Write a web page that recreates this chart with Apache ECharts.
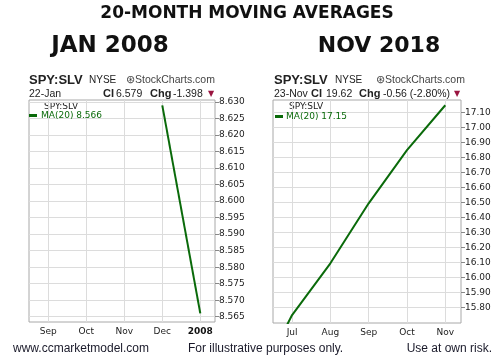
<!DOCTYPE html>
<html>
<head>
<meta charset="utf-8">
<script src="https://cdn.jsdelivr.net/npm/echarts@6/dist/echarts.min.js"></script>
<style>
html,body{margin:0;padding:0;background:#fff;}
#c{width:499px;height:359px;}
</style>
</head>
<body>
<div id="c"></div>
<script>
// ---- data ----
const leftMonths = ['Sep', 'Oct', 'Nov', 'Dec', '2008'];
const leftMA = [null, null, null, 8.629, 8.566];
const leftYTicks = [8.565, 8.570, 8.575, 8.580, 8.585, 8.590, 8.595, 8.600, 8.605, 8.610, 8.615, 8.620, 8.625, 8.630];

const rightMonths = ['Jun', 'Jul', 'Aug', 'Sep', 'Oct', 'Nov'];
const rightMA = [15.25, 15.751, 16.096, 16.496, 16.851, 17.15];
const rightYTicks = [15.80, 15.90, 16.00, 16.10, 16.20, 16.30, 16.40, 16.50, 16.60, 16.70, 16.80, 16.90, 17.00, 17.10];

const leftLast = 8.566;
const rightLast = 17.15;

// ---- build ----
const GREEN = '#0a6a0a';
const FONT = '"DejaVu Sans", Verdana, sans-serif';
const leftPts = [];
leftMA.forEach((v, i) => { if (v !== null) leftPts.push([i, v]); });
const rightPts = rightMA.map((v, i) => [i - 1, v]);
const leftX = leftMonths.map((m, i) => i);
const rightX = rightMonths.map((m, i) => i - 1).filter(i => i >= 0);

function xAxis(gridIndex, names, offset, custom, min, max) {
  return {
    type: 'value', gridIndex, min, max,
    axisLine: {show: false, onZero: false},
    axisTick: {show: true, customValues: custom, length: 0, lineStyle: {color: '#ddd'}},
    splitLine: {show: true, lineStyle: {color: '#dcdcdc', width: 1}},
    axisLabel: {
      customValues: custom, margin: 5,
      formatter: v => {
        const n = names[Math.round(v) + offset];
        return /^\d{4}$/.test(n) ? '{b|' + n + '}' : '{n|' + n + '}';
      },
      rich: {
        n: {fontFamily: FONT, fontSize: 9, color: '#222'},
        b: {fontFamily: FONT, fontSize: 9, fontWeight: 'bold', color: '#111'}
      }
    }
  };
}
function yAxis(gridIndex, ticks, dec, min, max) {
  return {
    type: 'value', gridIndex, position: 'right', min, max,
    axisLine: {show: false, onZero: false},
    axisTick: {show: true, customValues: ticks, length: 4, lineStyle: {color: '#888'}},
    splitLine: {show: true, lineStyle: {color: '#dcdcdc', width: 1}},
    axisLabel: {customValues: ticks, margin: 4, fontFamily: FONT, fontSize: 9, color: '#222',
      formatter: v => v.toFixed(dec)}
  };
}

function txt(x, y, text, font, fill, align) {
  return {type: 'text', x, y, style: {text, font, fill: fill || '#111', textAlign: align || 'left', textVerticalAlign: 'middle'}};
}
const SANS = '"Liberation Sans", Arial, sans-serif';

const option = {
  animation: false,
  backgroundColor: '#fff',
  grid: [
    {left: 29, top: 100, width: 186, height: 222, show: true, borderColor: '#a8a8a8', borderWidth: 1, backgroundColor: 'transparent'},
    {left: 273, top: 100, width: 188, height: 223, show: true, borderColor: '#a8a8a8', borderWidth: 1, backgroundColor: 'transparent'}
  ],
  xAxis: [
    xAxis(0, leftMonths, 0, leftX, -0.508, 4.387),
    xAxis(1, rightMonths, 1, rightX, -0.498, 4.411)
  ],
  yAxis: [
    yAxis(0, leftYTicks, 3, 8.5634, 8.63061),
    yAxis(1, rightYTicks, 2, 15.698, 17.185)
  ],
  legend: [
    {data: ['MAL'], left: 29, top: 111, itemWidth: 8, itemHeight: 3, icon: 'rect', itemGap: 0, padding: 0,
     formatter: () => 'MA(20) ' + leftLast.toFixed(3), textStyle: {color: GREEN, fontFamily: FONT, fontSize: 9, padding: [0, 0, 0, -1]}},
    {data: ['MAR'], left: 275, top: 112, itemWidth: 8, itemHeight: 3, icon: 'rect', itemGap: 0, padding: 0,
     formatter: () => 'MA(20) ' + rightLast.toFixed(2), textStyle: {color: GREEN, fontFamily: FONT, fontSize: 9, padding: [0, 0, 0, -2]}}
  ],
  series: [
    {name: 'MAL', type: 'line', xAxisIndex: 0, yAxisIndex: 0, data: leftPts, showSymbol: false, symbol: 'none',
     lineStyle: {color: GREEN, width: 2}, itemStyle: {color: GREEN}, clip: true},
    {name: 'MAR', type: 'line', xAxisIndex: 1, yAxisIndex: 1, data: rightPts, showSymbol: false, symbol: 'none',
     lineStyle: {color: GREEN, width: 2}, itemStyle: {color: GREEN}, clip: true}
  ],
  graphic: [
    txt(247, 14, '20-MONTH MOVING AVERAGES', 'bold 17px "DejaVu Sans", sans-serif', '#111', 'center'),
    txt(110, 46, 'JAN 2008', 'bold 23px "DejaVu Sans", sans-serif', '#111', 'center'),
    txt(379, 46, 'NOV 2018', 'bold 22px "DejaVu Sans", sans-serif', '#111', 'center'),
    // left header
    txt(29, 80, 'SPY:SLV', 'bold 13px ' + SANS, '#222'),
    txt(89, 80, 'NYSE', '10px ' + SANS, '#222'),
    txt(126, 80, '⊛StockCharts.com', '10.5px ' + SANS, '#444'),
    txt(29, 94, '22-Jan', '10.5px ' + SANS, '#222'),
    txt(103, 94, 'CI', 'bold 11px ' + SANS, '#222'),
    txt(116, 94, '6.579', '10.5px ' + SANS, '#222'),
    txt(150, 94, 'Chg', 'bold 11px ' + SANS, '#222'),
    txt(173, 94, '-1.398', '10.5px ' + SANS, '#222'),
    txt(208, 94, '▼', '8px "DejaVu Sans", sans-serif', '#9a1540'),
    txt(44, 107, 'SPY:SLV', '9px ' + FONT, '#222'),
    // right header
    txt(274, 80, 'SPY:SLV', 'bold 13px ' + SANS, '#222'),
    txt(335, 80, 'NYSE', '10px ' + SANS, '#222'),
    txt(376, 80, '⊛StockCharts.com', '10.5px ' + SANS, '#444'),
    txt(274, 94, '23-Nov', '10.5px ' + SANS, '#222'),
    txt(311, 94, 'CI', 'bold 11px ' + SANS, '#222'),
    txt(326, 94, '19.62', '10.5px ' + SANS, '#222'),
    txt(359, 94, 'Chg', 'bold 11px ' + SANS, '#222'),
    txt(383, 94, '-0.56 (-2.80%)', '10.5px ' + SANS, '#222'),
    txt(454, 94, '▼', '8px "DejaVu Sans", sans-serif', '#9a1540'),
    txt(289, 107, 'SPY:SLV', '9px ' + FONT, '#222'),
    // footer
    txt(13, 349, 'www.ccmarketmodel.com', '12px ' + SANS, '#1a1a2a'),
    txt(188, 349, 'For illustrative purposes only.', '12px ' + SANS, '#1a1a2a'),
    txt(492, 349, 'Use at own risk.', '12px ' + SANS, '#1a1a2a', 'right')
  ]
};
const chart = echarts.init(document.getElementById('c'), null, {renderer: 'canvas'});
chart.setOption(option);
</script>
</body>
</html>
